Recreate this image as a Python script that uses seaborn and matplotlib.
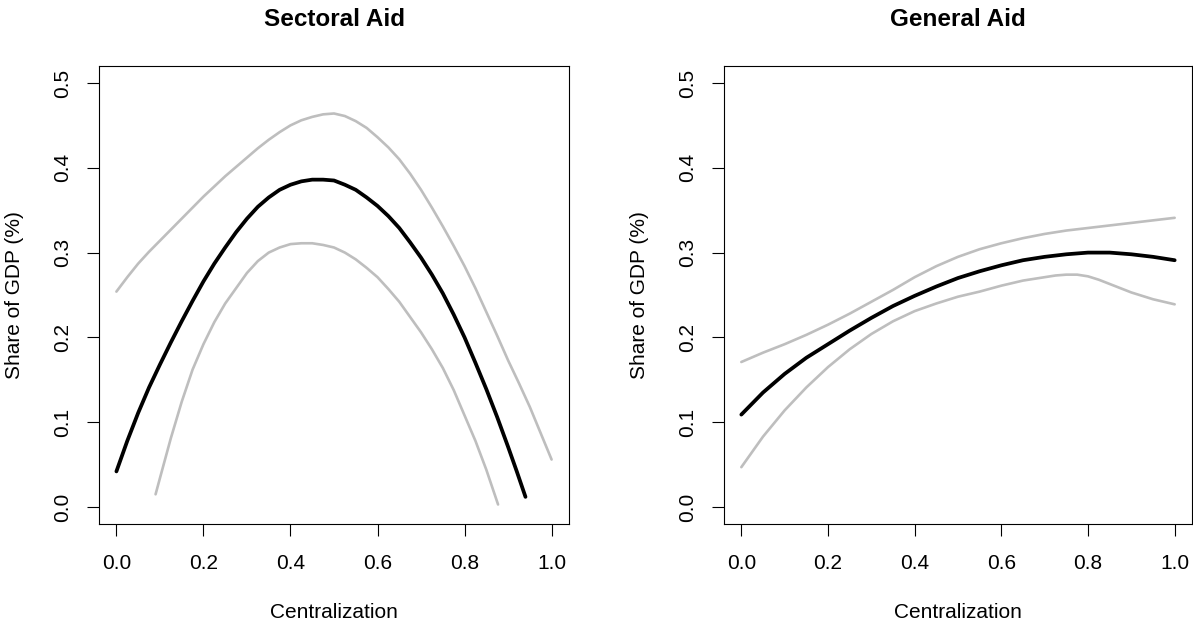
import numpy as np
import pandas as pd
import matplotlib
matplotlib.use("Agg")
import matplotlib.pyplot as plt
import seaborn as sns

# ---- data ----
sect_x = [0.0, 0.025, 0.05, 0.075, 0.1, 0.125, 0.15, 0.175, 0.2, 0.225, 0.25, 0.275,
          0.3, 0.325, 0.35, 0.375, 0.4, 0.425, 0.45, 0.475, 0.5, 0.525, 0.55, 0.575,
          0.6, 0.625, 0.65, 0.675, 0.7, 0.725, 0.75, 0.775, 0.8, 0.825, 0.85, 0.875,
          0.9, 0.92, 0.94]
sect_mean = [0.042, 0.078, 0.111, 0.141, 0.168, 0.194, 0.219, 0.243, 0.266, 0.287,
             0.306, 0.324, 0.340, 0.354, 0.365, 0.374, 0.380, 0.384, 0.386, 0.386,
             0.385, 0.380, 0.374, 0.365, 0.355, 0.343, 0.329, 0.312, 0.294, 0.274,
             0.252, 0.227, 0.200, 0.170, 0.139, 0.106, 0.071, 0.042, 0.012]

sect_up_x = [0.0, 0.025, 0.05, 0.075, 0.1, 0.125, 0.15, 0.175, 0.2, 0.225, 0.25, 0.275,
             0.3, 0.325, 0.35, 0.375, 0.4, 0.425, 0.45, 0.475, 0.5, 0.525, 0.55, 0.575,
             0.6, 0.625, 0.65, 0.675, 0.7, 0.725, 0.75, 0.775, 0.8, 0.825, 0.85, 0.875,
             0.9, 0.925, 0.95, 0.975, 1.0]
sect_upper = [0.254, 0.271, 0.287, 0.301, 0.314, 0.327, 0.340, 0.353, 0.366, 0.378,
              0.390, 0.401, 0.412, 0.423, 0.433, 0.442, 0.450, 0.456, 0.460, 0.463,
              0.464, 0.461, 0.455, 0.447, 0.436, 0.424, 0.410, 0.393, 0.374, 0.353,
              0.331, 0.308, 0.284, 0.258, 0.230, 0.202, 0.173, 0.146, 0.118, 0.087, 0.056]

sect_lo_x = [0.09, 0.1, 0.125, 0.15, 0.175, 0.2, 0.225, 0.25, 0.275, 0.3, 0.325, 0.35,
             0.375, 0.4, 0.425, 0.45, 0.475, 0.5, 0.525, 0.55, 0.575, 0.6, 0.625, 0.65,
             0.675, 0.7, 0.725, 0.75, 0.775, 0.8, 0.825, 0.85, 0.877]
sect_lower = [0.015, 0.034, 0.081, 0.124, 0.162, 0.192, 0.218, 0.240, 0.258, 0.276,
              0.290, 0.300, 0.306, 0.310, 0.311, 0.311, 0.309, 0.306, 0.300, 0.292,
              0.282, 0.271, 0.257, 0.242, 0.224, 0.206, 0.186, 0.164, 0.138, 0.108,
              0.078, 0.044, 0.003]

gen_x = [0.0, 0.05, 0.1, 0.15, 0.2, 0.25, 0.3, 0.35, 0.4, 0.45, 0.5, 0.55,
         0.6, 0.65, 0.7, 0.75, 0.8, 0.85, 0.9, 0.95, 1.0]
gen_mean = [0.109, 0.135, 0.157, 0.176, 0.192, 0.208, 0.223, 0.237, 0.249, 0.260,
            0.270, 0.278, 0.285, 0.291, 0.295, 0.298, 0.300, 0.300, 0.298, 0.295, 0.291]
gen_upper = [0.171, 0.182, 0.192, 0.203, 0.215, 0.228, 0.242, 0.256, 0.271, 0.284,
             0.295, 0.304, 0.311, 0.317, 0.322, 0.326, 0.329, 0.332, 0.335, 0.338, 0.341]
gen_lo_x = [0.0, 0.05, 0.1, 0.15, 0.2, 0.25, 0.3, 0.35, 0.4, 0.45, 0.5, 0.55,
            0.6, 0.65, 0.7, 0.725, 0.75, 0.775, 0.8, 0.825, 0.85, 0.875, 0.9, 0.95, 1.0]
gen_lower = [0.047, 0.083, 0.114, 0.141, 0.165, 0.186, 0.204, 0.219, 0.231, 0.240,
             0.248, 0.254, 0.261, 0.267, 0.271, 0.273, 0.274, 0.274, 0.272, 0.268,
             0.263, 0.258, 0.253, 0.245, 0.239]

titles = ["Sectoral Aid", "General Aid"]
x_ticks = [0.0, 0.2, 0.4, 0.6, 0.8, 1.0]
y_ticks = [0.0, 0.1, 0.2, 0.3, 0.4, 0.5]
x_label = "Centralization"
y_label = "Share of GDP (%)"

sns.set_theme(style="white")
plt.rcParams['font.family'] = ['Liberation Sans', 'DejaVu Sans']

fig = plt.figure(figsize=(11.93, 6.24), dpi=100)
ax1 = fig.add_axes([99/1193, 1-524/624, (569-99)/1193, (524-66)/624])
ax2 = fig.add_axes([724/1193, 1-524/624, (1192-724)/1193, (524-66)/624])

grey = "#BEBEBE"
panels = [
    (ax1, (sect_up_x, sect_upper), (sect_lo_x, sect_lower), (sect_x, sect_mean)),
    (ax2, (gen_x, gen_upper), (gen_lo_x, gen_lower), (gen_x, gen_mean)),
]
style = dict(solid_joinstyle="round", solid_capstyle="round", sort=False)

for i, (ax, up, lo, mn) in enumerate(panels):
    sns.lineplot(x=up[0], y=up[1], ax=ax, color=grey, linewidth=1.9, **style)
    sns.lineplot(x=lo[0], y=lo[1], ax=ax, color=grey, linewidth=1.9, **style)
    sns.lineplot(x=mn[0], y=mn[1], ax=ax, color="black", linewidth=2.7, **style)
    ax.set_xlim(-0.04, 1.04)
    ax.set_ylim(-0.02, 0.52)
    ax.set_xticks(x_ticks)
    ax.set_yticks(y_ticks)
    ax.set_xticklabels([f"{v:.1f}" for v in x_ticks])
    ax.set_yticklabels([f"{v:.1f}" for v in y_ticks], rotation=90, va="center")
    ax.tick_params(axis="both", direction="out", length=8.5, width=0.8,
                   color="black", labelsize=15, labelcolor="black", bottom=True, left=True)
    ax.tick_params(axis="x", pad=13)
    ax.tick_params(axis="y", pad=11)
    for s in ax.spines.values():
        s.set_visible(True)
        s.set_color("black")
        s.set_linewidth(0.8)
    ax.set_xlabel(x_label, fontsize=15, color="black", labelpad=22)
    ax.set_ylabel(y_label, fontsize=15, color="black", labelpad=20.5)
    ax.set_title(titles[i], fontsize=17.5, fontweight="bold", color="black", pad=28.5)
    ax.grid(False)

fig.savefig("out.png", dpi=100, facecolor="white")
